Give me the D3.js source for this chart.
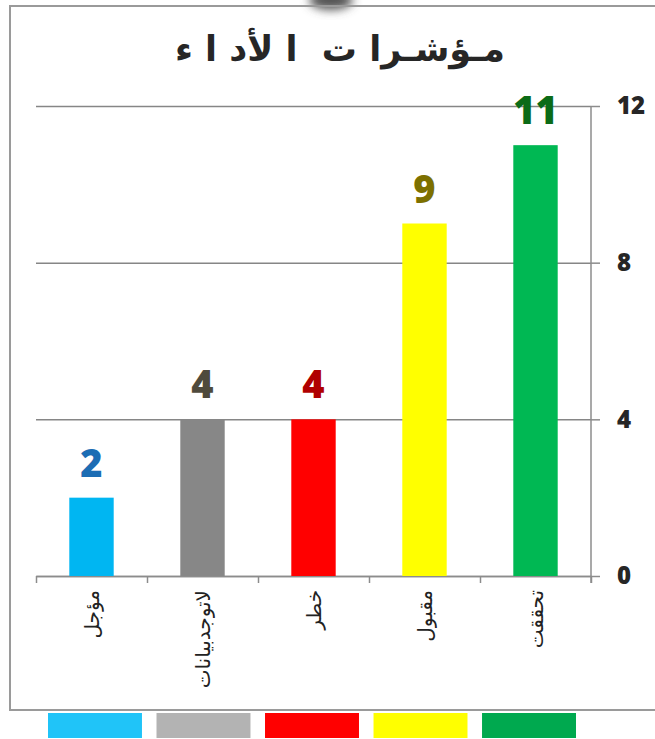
<!DOCTYPE html>
<html>
<head>
<meta charset="utf-8">
<script src="https://cdn.jsdelivr.net/npm/d3@7"></script>
<style>
  html, body { margin: 0; padding: 0; background: #fff; }
  svg { display: block; }
  .num { font-family: "Open Sans", "Liberation Sans", sans-serif; font-weight: 800; }
  .ar { font-family: "DejaVu Sans", sans-serif; }
  .title { white-space: pre; }
</style>
</head>
<body>
<div id="chart"></div>
<script>
const TITLE = 'مـؤشـرا ت  ا لأد ا ء';
const categories = ['مؤجل', 'لاتوجدبيانات', 'خطر', 'مقبول', 'تحققت'];
const values = [2, 4, 4, 9, 11];
const barColors = ['#00b6f2', '#878787', '#ff0000', '#ffff00', '#00b853'];
const labelColors = ['#1c6db4', '#4f4a3c', '#b00000', '#7d7000', '#0b6b17'];
const legendColors = ['#20c4f8', '#b3b3b3', '#ff0000', '#ffff00', '#00a94f'];
const yTicks = [0, 4, 8, 12];

const width = 655;
const height = 739;
const plot = { left: 36, right: 591, top: 106, bottom: 576 };

const svg = d3.select('#chart')
  .append('svg')
  .attr('width', width)
  .attr('height', height);

// shadow blob at the top
const defs = svg.append('defs');
defs.append('filter')
  .attr('id', 'blur')
  .attr('x', '-50%').attr('y', '-50%').attr('width', '200%').attr('height', '200%')
  .append('feGaussianBlur')
  .attr('stdDeviation', 5);

svg.append('ellipse')
  .attr('cx', 331)
  .attr('cy', 0)
  .attr('rx', 22)
  .attr('ry', 10)
  .attr('fill', '#555')
  .attr('filter', 'url(#blur)');

// frame
svg.append('rect')
  .attr('x', 10)
  .attr('y', 6)
  .attr('width', 720)
  .attr('height', 704)
  .attr('fill', 'none')
  .attr('stroke', '#9a9a9a')
  .attr('stroke-width', 2);

svg.append('text')
  .attr('class', 'ar title')
  .attr('x', 340)
  .attr('y', 61)
  .attr('text-anchor', 'middle')
  .attr('font-size', 35)
  .attr('font-weight', 700)
  .attr('fill', '#262626')
  .text(TITLE);

const x = d3.scaleBand()
  .domain(categories)
  .range([plot.left, plot.right])
  .padding(0);

const y = d3.scaleLinear()
  .domain([0, 12])
  .range([plot.bottom, plot.top]);

// gridlines
const grid = svg.append('g')
  .attr('transform', `translate(${plot.right},0)`)
  .call(d3.axisLeft(y).tickValues(yTicks).tickSize(plot.right - plot.left).tickFormat(''));
grid.select('.domain').remove();
grid.selectAll('line').attr('stroke', '#868686').attr('stroke-width', 1.5);

// right axis
const yAxis = svg.append('g')
  .attr('transform', `translate(${plot.right},0)`)
  .call(d3.axisRight(y).tickValues(yTicks).tickSize(9).tickPadding(17));
yAxis.select('.domain')
  .attr('d', `M0,${plot.top}V${plot.bottom + 7}`)
  .attr('stroke', '#8c8c8c')
  .attr('stroke-width', 1.5);
yAxis.selectAll('line').attr('stroke', '#8c8c8c').attr('stroke-width', 1.5);
yAxis.selectAll('text')
  .attr('class', 'num')
  .attr('font-size', 24)
  .attr('fill', '#262626');

// bottom axis, ticks at the category edges
const edge = d3.scaleLinear().domain([0, categories.length]).range([plot.left, plot.right]);
const xAxis = svg.append('g')
  .attr('transform', `translate(0,${plot.bottom})`)
  .call(d3.axisBottom(edge).tickValues(d3.range(categories.length + 1)).tickSize(7).tickSizeOuter(0).tickFormat(''));
xAxis.select('.domain').attr('stroke', '#8c8c8c').attr('stroke-width', 1.5);
xAxis.selectAll('line').attr('stroke', '#8c8c8c').attr('stroke-width', 1.5);

const barW = x.bandwidth() * 0.4;

svg.append('g')
  .selectAll('rect')
  .data(values)
  .join('rect')
  .attr('x', (d, i) => x(categories[i]) + (x.bandwidth() - barW) / 2)
  .attr('y', d => y(d))
  .attr('width', barW)
  .attr('height', d => y(0) - y(d))
  .attr('fill', (d, i) => barColors[i]);

svg.append('g')
  .selectAll('text')
  .data(values)
  .join('text')
  .attr('class', 'num')
  .attr('x', (d, i) => x(categories[i]) + x.bandwidth() / 2)
  .attr('y', d => y(d) - 21)
  .attr('text-anchor', 'middle')
  .attr('font-size', 38)
  .attr('fill', (d, i) => labelColors[i])
  .text(d => d);

// category labels, vertical
svg.append('g')
  .selectAll('text')
  .data(categories)
  .join('text')
  .attr('class', 'ar')
  .attr('transform', d => `translate(${x(d) + x.bandwidth() / 2 + 7},${plot.bottom + 14}) rotate(-90)`)
  .attr('text-anchor', 'end')
  .attr('font-size', 20)
  .attr('fill', '#222')
  .text(d => d);

// colour strip under the frame
const legend = d3.scaleBand()
  .domain(categories)
  .range([48, 576])
  .paddingInner(0.134);

svg.append('g')
  .selectAll('rect')
  .data(categories)
  .join('rect')
  .attr('x', d => legend(d))
  .attr('y', 713)
  .attr('width', legend.bandwidth())
  .attr('height', 25)
  .attr('fill', (d, i) => legendColors[i]);
</script>
</body>
</html>
